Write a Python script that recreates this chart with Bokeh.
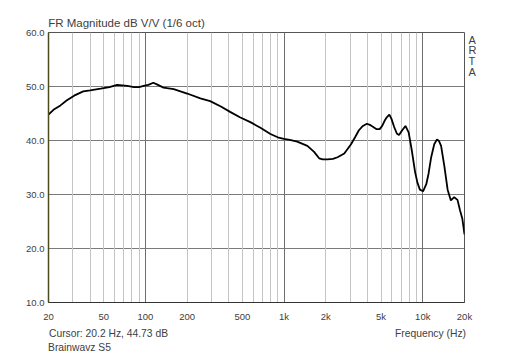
from bokeh.plotting import figure
from bokeh.models import (Range1d, FixedTicker, Grid, LinearAxis, LinearScale,
                          ColumnDataSource)
from bokeh.embed import file_html
from bokeh.resources import INLINE

# ---- data ----
freq_hz = [20, 22, 24.4, 27, 30.6, 35.6, 40, 47.5, 55, 62.5, 68, 74, 82.6, 90, 97,
           105, 114, 121, 135, 160, 200, 249, 293, 350, 408, 480, 571, 680, 797,
           900, 995, 1100, 1244, 1472, 1646, 1789, 1900, 2057, 2250, 2430, 2717,
           3039, 3250, 3464, 3700, 3956, 4150, 4396, 4650, 4892, 5100, 5295, 5500,
           5741, 5950, 6221, 6500, 6741, 7110, 7500, 7910, 8346, 8800, 9150, 9540,
           10050, 10600, 11000, 11480, 12100, 12660, 13100, 13560, 14320, 15110,
           15950, 16850, 17800, 18600, 19300, 20000]
mag_db = [44.8, 45.8, 46.5, 47.4, 48.3, 49.1, 49.3, 49.6, 49.9, 50.3, 50.2, 50.1, 49.9, 49.9, 50.1,
          50.3, 50.7, 50.4, 49.8, 49.5, 48.7, 47.8, 47.3, 46.3, 45.3, 44.3, 43.4, 42.3, 41.2,
          40.6, 40.3, 40.1, 39.8, 39.0, 37.9, 36.7, 36.5, 36.5, 36.6, 36.9, 37.6,
          39.3, 40.6, 41.9, 42.7, 43.1, 42.9, 42.5, 42.1, 42.1, 42.7, 43.6, 44.3,
          44.8, 44.0, 42.5, 41.3, 41.0, 41.9, 42.7, 41.5, 38.1, 34.2, 32.2, 30.9,
          30.6, 31.9, 33.8, 36.8, 39.3, 40.2, 39.9, 39.0, 35.2, 30.9,
          28.9, 29.5, 29.0, 27.0, 25.5, 22.6]

x_tick_values = [20, 50, 100, 200, 500, 1000, 2000, 5000, 10000, 20000]
x_tick_labels = ["20", "50", "100", "200", "500", "1k", "2k", "5k", "10k", "20k"]
y_tick_values = [10, 20, 30, 40, 50, 60]
y_tick_labels = ["10.0", "20.0", "30.0", "40.0", "50.0", "60.0"]
minor_grid = [30, 40, 50, 60, 70, 80, 90, 200, 300, 400, 500, 600, 700, 800, 900,
              2000, 3000, 4000, 5000, 6000, 7000, 8000, 9000]
decade_grid = [100, 1000, 10000]

title_text = "FR Magnitude dB V/V (1/6 oct)"
cursor_text = "Cursor: 20.2 Hz, 44.73 dB"
name_text = "Brainwavz S5"
xlabel_text = "Frequency (Hz)"
brand_letters = ["A", "R", "T", "A"]

# ---- layout (pixel positions of the surrounding texts) ----
FRAME_L, FRAME_R, FRAME_T, FRAME_B = 48, 464, 32, 302
TITLE_CX = 126
CURSOR_CX, XLABEL_CX = 108, 430
NAME_CX = 79
BRAND_CY = [39, 49.5, 60, 71]

FONT = "Liberation Sans"
TXT = "#404040"

p = figure(width=512, height=358, x_axis_type="log", title=None,
           x_range=Range1d(20, 20000), y_range=Range1d(10, 60),
           output_backend="svg", toolbar_location=None,
           min_border_left=FRAME_L, min_border_right=512 - FRAME_R,
           min_border_top=FRAME_T, min_border_bottom=358 - FRAME_B)
p.background_fill_color = "white"
p.border_fill_color = "white"
p.outline_line_color = "#555555"
p.outline_line_width = 1

# pixel ranges for the text rows
p.extra_x_ranges = {"px": Range1d(FRAME_L, FRAME_R)}
p.extra_x_scales = {"px": LinearScale()}
p.extra_y_ranges = {"py": Range1d(FRAME_B, FRAME_T)}
p.extra_y_scales = {"py": LinearScale()}

def plain(ax, size):
    ax.major_tick_out = 0
    ax.major_tick_in = 0
    ax.minor_tick_out = 0
    ax.minor_tick_in = 0
    ax.major_label_text_font = FONT
    ax.major_label_text_font_size = size
    ax.major_label_text_color = TXT

# main axes
p.xaxis.ticker = FixedTicker(ticks=x_tick_values)
p.xaxis.major_label_overrides = {v: l for v, l in zip(x_tick_values, x_tick_labels)}
p.yaxis.ticker = FixedTicker(ticks=y_tick_values)
p.yaxis.major_label_overrides = {v: l for v, l in zip(y_tick_values, y_tick_labels)}
plain(p.xaxis[0], "9.5px")
plain(p.yaxis[0], "9.5px")
p.xaxis.axis_line_color = "#333333"
p.yaxis.axis_line_color = "#4b4b20"
p.yaxis.axis_line_width = 1.5
p.xaxis.major_label_standoff = 8
p.yaxis.major_label_standoff = 4

# text rows as label-only axes
def text_axis(side, ticks, labels, size, standoff, rng):
    kw = {"x_range_name": rng} if side in ("above", "below") else {"y_range_name": rng}
    ax = LinearAxis(ticker=FixedTicker(ticks=ticks), **kw)
    ax.major_label_overrides = {t: l for t, l in zip(ticks, labels)}
    plain(ax, size)
    ax.axis_line_color = None
    ax.major_label_standoff = standoff
    p.add_layout(ax, side)
    return ax

text_axis("above", [TITLE_CX], [title_text], "11.5px", 4, "px")
text_axis("below", [CURSOR_CX, XLABEL_CX], [cursor_text, xlabel_text], "10.3px", 3, "px")
text_axis("below", [NAME_CX], [name_text], "10.3px", 0, "px")
text_axis("right", BRAND_CY, brand_letters, "11px", 4, "py")

# grids
p.xgrid.grid_line_color = None
p.ygrid.ticker = FixedTicker(ticks=y_tick_values)
p.ygrid.grid_line_color = "#7a7a7a"
p.ygrid.grid_line_width = 1
p.add_layout(Grid(dimension=0, ticker=FixedTicker(ticks=minor_grid),
                  grid_line_color="#c4c4c4", grid_line_width=1))
p.add_layout(Grid(dimension=0, ticker=FixedTicker(ticks=decade_grid),
                  grid_line_color="#6e6e6e", grid_line_width=1))

# curve
src = ColumnDataSource(dict(f=freq_hz, db=mag_db))
p.line("f", "db", source=src, line_color="black", line_width=1.8)

open("out.html", "w").write(file_html(p, INLINE))
